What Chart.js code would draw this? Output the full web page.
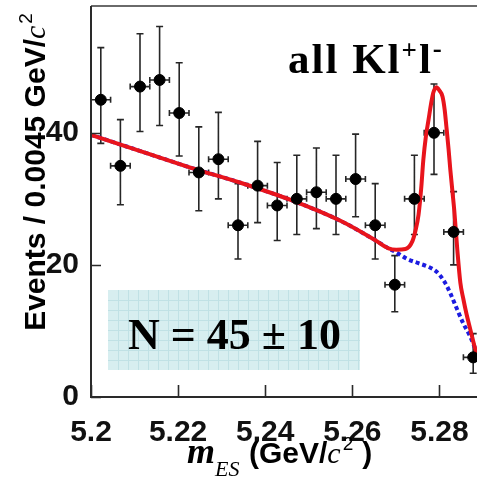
<!DOCTYPE html>
<html>
<head>
<meta charset="utf-8">
<script src="https://cdn.jsdelivr.net/npm/chart.js@4.4.1/dist/chart.umd.min.js"></script>
<style>
  html, body { margin: 0; padding: 0; background: #fff; overflow: hidden; }
  #wrap { width: 483px; height: 479px; }
</style>
</head>
<body>
<div id="wrap"><canvas id="mes" width="483" height="479"></canvas></div>
<script>
// bin centres (GeV/c^2), 0.0045 wide bins
var xCenters = [5.20225, 5.20675, 5.21125, 5.21575, 5.22025, 5.22475, 5.22925, 5.23375, 5.23825, 5.24275,
                5.24725, 5.25175, 5.25625, 5.26075, 5.26525, 5.26975, 5.27425, 5.27875, 5.28325, 5.28775];
var counts   = [45, 35, 47, 48, 43, 34, 36, 26, 32, 29, 30, 31, 30, 33, 26, 17, 30, 40, 25, 6];
var errUp    = [7.9, 7.0, 8.0, 8.1, 7.6, 6.9, 7.1, 6.3, 6.7, 6.5, 6.6, 6.7, 6.6, 6.8, 6.3, 4.4, 6.6, 7.4, 6.1, 3.6];
var errDown  = [6.6, 5.9, 6.8, 6.9, 6.5, 5.8, 6.0, 5.1, 5.6, 5.3, 5.4, 5.5, 5.4, 5.7, 5.1, 4.1, 5.4, 6.3, 5.0, 2.4];
var binHalf  = 0.00225;

// total fit (signal + background)
var fitX = [5.2, 5.2115, 5.223, 5.2345, 5.246, 5.2575, 5.2651, 5.2683, 5.2701, 5.2722, 5.2738, 5.2745,
            5.2752, 5.2758, 5.2763, 5.2769, 5.2775, 5.2781, 5.2786, 5.2793, 5.28, 5.2807, 5.2812, 5.2816,
            5.2821, 5.2825, 5.283, 5.2834, 5.2841, 5.2848, 5.2855, 5.2862, 5.2871, 5.288, 5.289];
var fitY = [39.7, 37.2, 34.7, 32.4, 29.8, 26.6, 23.8, 22.5, 22.3, 22.4, 23.6, 25.2,
            27.6, 31.5, 35.9, 39.5, 42.0, 44.5, 46.1, 46.9, 46.4, 45.5, 43.5, 40.9,
            37.5, 34.4, 31.0, 28.3, 22.3, 17.3, 14.8, 12.6, 10.2, 7.8, 5.6];

// background component
var bgX = [5.2, 5.2115, 5.223, 5.2345, 5.246, 5.2575, 5.2651, 5.2683, 5.2701, 5.2726, 5.275, 5.2775,
           5.2791, 5.28, 5.2809, 5.2817, 5.2825, 5.2841, 5.2855, 5.2871, 5.2883, 5.289];
var bgY = [39.7, 37.2, 34.7, 32.4, 29.8, 26.6, 23.8, 22.5, 21.9, 20.9, 20.3, 19.7,
           19.1, 18.5, 17.7, 16.8, 15.7, 13.2, 11.1, 9.1, 7.1, 5.6];

var xTicks = [5.2, 5.22, 5.24, 5.26, 5.28];
var xTickLabels = ['5.2', '5.22', '5.24', '5.26', '5.28'];
var yTicks = [0, 20, 40];
var yTickLabels = ['0', '20', '40'];

var SANS = '"Liberation Sans", Arial, sans-serif';
var SERIF = '"Liberation Serif", "Times New Roman", serif';

function pts(xs, ys) {
    return xs.map(function (x, i) { return { x: x, y: ys[i] }; });
}

// error bars under the markers
var errorBars = {
    id: 'errorBars',
    beforeDatasetsDraw: function (chart) {
        var ctx = chart.ctx, x = chart.scales.x, y = chart.scales.y;
        ctx.save();
        ctx.strokeStyle = '#262626';
        ctx.lineWidth = 1.6;
        ctx.beginPath();
        xCenters.forEach(function (xc, i) {
            var px = x.getPixelForValue(xc);
            var py = y.getPixelForValue(counts[i]);
            var top = y.getPixelForValue(counts[i] + errUp[i]);
            var bot = y.getPixelForValue(counts[i] - errDown[i]);
            var l = x.getPixelForValue(xc - binHalf);
            var r = x.getPixelForValue(xc + binHalf);
            ctx.moveTo(px, top); ctx.lineTo(px, bot);
            ctx.moveTo(px - 3.5, top); ctx.lineTo(px + 3.5, top);
            ctx.moveTo(px - 3.5, bot); ctx.lineTo(px + 3.5, bot);
            ctx.moveTo(l, py); ctx.lineTo(r, py);
            ctx.moveTo(l, py - 3); ctx.lineTo(l, py + 3);
            ctx.moveTo(r, py - 3); ctx.lineTo(r, py + 3);
        });
        ctx.stroke();
        ctx.restore();
    }
};

// frame, inward ticks, yield box and titles
var decorations = {
    id: 'decorations',
    beforeDatasetsDraw: function (chart) {
        var ctx = chart.ctx, a = chart.chartArea;
        // graph-paper box for the yield
        var bx = a.left + 17, by = a.top + 284, bw = 252, bh = 80;
        ctx.save();
        ctx.fillStyle = '#d7eef0';
        ctx.fillRect(bx, by, bw, bh);
        ctx.strokeStyle = '#c0e1e5';
        ctx.lineWidth = 1;
        ctx.beginPath();
        for (var gx = bx + 10; gx < bx + bw; gx += 10) { ctx.moveTo(gx + 0.5, by); ctx.lineTo(gx + 0.5, by + bh); }
        for (var gy = by + 10; gy < by + bh; gy += 10) { ctx.moveTo(bx, gy + 0.5); ctx.lineTo(bx + bw, gy + 0.5); }
        ctx.stroke();
        ctx.restore();
    },
    afterDraw: function (chart) {
        var ctx = chart.ctx, a = chart.chartArea, x = chart.scales.x, y = chart.scales.y;
        ctx.save();
        // frame (right side falls just outside the window)
        ctx.strokeStyle = '#6a6a6a';
        ctx.lineWidth = 2;
        ctx.beginPath();
        ctx.moveTo(a.left, a.top); ctx.lineTo(a.right, a.top);
        ctx.stroke();
        ctx.strokeStyle = '#2a2a2a';
        ctx.beginPath();
        ctx.moveTo(a.left, a.top); ctx.lineTo(a.left, a.bottom); ctx.lineTo(a.right, a.bottom);
        ctx.stroke();
        // inward ticks
        ctx.lineWidth = 1.6;
        ctx.beginPath();
        xTicks.forEach(function (v) {
            var px = Math.round(x.getPixelForValue(v)) + 0.5;
            ctx.moveTo(px, a.bottom); ctx.lineTo(px, a.bottom - 12);
        });
        yTicks.forEach(function (v) {
            var py = Math.round(y.getPixelForValue(v)) + 0.5;
            ctx.moveTo(a.left, py); ctx.lineTo(a.left + 10, py);
        });
        ctx.stroke();

        ctx.fillStyle = '#000';
        ctx.textBaseline = 'alphabetic';

        // channel label
        ctx.font = 'bold 43px ' + SERIF;
        ctx.letterSpacing = '2px';
        var tx = a.left + 197, ty = a.top + 67;
        ctx.fillText('all Kl', tx, ty);
        tx += ctx.measureText('all Kl').width;
        ctx.font = 'bold 27px ' + SERIF;
        ctx.fillText('+', tx, ty - 14);
        tx += ctx.measureText('+').width;
        ctx.font = 'bold 43px ' + SERIF;
        ctx.fillText('l', tx, ty);
        tx += ctx.measureText('l').width;
        ctx.font = 'bold 27px ' + SERIF;
        ctx.fillText('-', tx, ty - 16);
        ctx.letterSpacing = '0px';

        // fitted yield
        ctx.font = 'bold 44px ' + SERIF;
        ctx.fillText('N = 45 \u00b1 10', a.left + 37, a.top + 343);

        // y title
        ctx.save();
        ctx.translate(45, 172);
        ctx.rotate(-Math.PI / 2);
        var p1 = 'Events / 0.0045 GeV/';
        ctx.font = 'bold 30px ' + SANS;
        var w1 = ctx.measureText(p1).width;
        ctx.font = 'italic 30px ' + SERIF;
        var w2 = ctx.measureText('c').width;
        ctx.font = '19px ' + SANS;
        var w3 = ctx.measureText('2').width;
        var sx = -(w1 + w2 + w3 + 2) / 2;
        ctx.font = 'bold 30px ' + SANS;
        ctx.fillText(p1, sx, 0);
        ctx.font = 'italic 30px ' + SERIF;
        ctx.fillText('c', sx + w1, 0);
        ctx.font = '19px ' + SANS;
        ctx.fillText('2', sx + w1 + w2 + 2, -13);
        ctx.restore();

        // x title
        var bx = 187, bl = 463;
        ctx.font = 'italic bold 36px ' + SERIF;
        ctx.fillText('m', bx, bl);
        bx += ctx.measureText('m').width;
        ctx.font = 'italic 22px ' + SERIF;
        ctx.fillText('ES', bx, bl + 13);
        ctx.font = 'bold 30px ' + SANS;
        bx = 249;
        ctx.fillText('(GeV/', bx, bl);
        bx += ctx.measureText('(GeV/').width;
        ctx.font = 'italic 30px ' + SERIF;
        ctx.fillText('c', bx, bl);
        bx += ctx.measureText('c').width + 2;
        ctx.font = '19px ' + SANS;
        ctx.fillText('2', bx, bl - 13);
        bx += ctx.measureText('2').width + 9;
        ctx.font = 'bold 30px ' + SANS;
        ctx.fillText(')', bx, bl);
        ctx.restore();
    }
};

new Chart(document.getElementById('mes').getContext('2d'), {
    type: 'scatter',
    data: {
        datasets: [{
            label: 'data',
            data: pts(xCenters, counts),
            backgroundColor: '#000',
            borderColor: '#000',
            pointRadius: 5.5,
            pointHoverRadius: 5.5,
            order: 0
        }, {
            label: 'fit',
            data: pts(fitX, fitY),
            showLine: true,
            borderColor: '#e8141c',
            borderWidth: 4,
            pointRadius: 0,
            cubicInterpolationMode: 'monotone',
            order: 1
        }, {
            label: 'background',
            data: pts(bgX, bgY),
            showLine: true,
            borderColor: '#1c1ce0',
            borderWidth: 4,
            borderDash: [4, 3],
            borderCapStyle: 'butt',
            pointRadius: 0,
            cubicInterpolationMode: 'monotone',
            order: 2
        }]
    },
    options: {
        responsive: false,
        animation: false,
        events: [],
        layout: { autoPadding: false, padding: { top: 6, right: 0, left: 0, bottom: 0 } },
        plugins: { legend: { display: false }, tooltip: { enabled: false } },
        scales: {
            x: {
                type: 'linear',
                min: 5.2,
                max: 5.29,
                grid: { display: false },
                border: { display: false },
                afterBuildTicks: function (s) { s.ticks = xTicks.map(function (v) { return { value: v }; }); },
                afterFit: function (s) { s.height = 82; s.paddingLeft = 0; s.paddingRight = 0; },
                ticks: {
                    maxRotation: 0,
                    autoSkip: false,
                    padding: 10,
                    color: '#111',
                    font: { family: SANS, size: 30, weight: 'bold' },
                    callback: function (v, i) { return xTickLabels[i]; }
                }
            },
            y: {
                min: 0,
                max: 59.2,
                grid: { display: false },
                border: { display: false },
                afterBuildTicks: function (s) { s.ticks = yTicks.map(function (v) { return { value: v }; }); },
                afterFit: function (s) { s.width = 91; s.paddingTop = 0; s.paddingBottom = 0; },
                ticks: {
                    padding: 4,
                    color: '#111',
                    font: { family: SANS, size: 30, weight: 'bold' },
                    callback: function (v, i) { return yTickLabels[i]; }
                }
            }
        }
    },
    plugins: [errorBars, decorations]
});
</script>
</body>
</html>
